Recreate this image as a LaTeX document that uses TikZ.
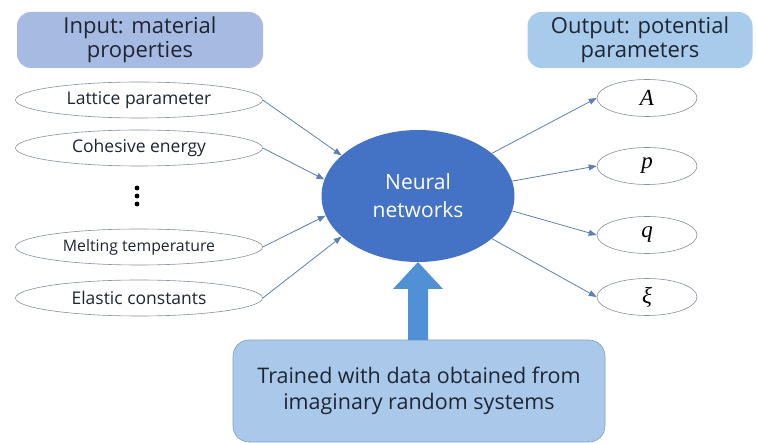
\documentclass[tikz,border=0pt]{standalone}
\usepackage{fontspec}
\setmainfont{Open Sans}
\newfontfamily\symfont{Liberation Serif}
\usetikzlibrary{shapes.geometric,arrows.meta}
\definecolor{inbox}{RGB}{166,186,226}
\definecolor{outbox}{RGB}{168,203,235}
\definecolor{nncol}{RGB}{68,114,196}
\definecolor{arrcol}{RGB}{94,128,180}
\definecolor{ellline}{RGB}{135,145,160}
\definecolor{blockcol}{RGB}{80,144,212}
\definecolor{trainfill}{RGB}{170,201,234}
\definecolor{trainline}{RGB}{130,160,200}
\definecolor{txt}{RGB}{30,38,52}
\tikzset{
  titlebox/.style={rounded corners=14pt, minimum width=#1, minimum height=56pt,
    align=center, text=txt, font=\fontsize{22}{24}\selectfont, inner sep=0pt},
  propnode/.style={ellipse, draw=ellline, line width=0.6pt, fill=white,
    minimum width=247pt, minimum height=36pt, inner sep=0pt, text=txt,
    font=\fontsize{17.5}{19}\selectfont},
  parnode/.style={ellipse, draw=ellline, line width=0.6pt, fill=white,
    minimum width=100pt, minimum height=37pt, inner sep=0pt, text=black,
    font=\symfont\itshape\fontsize{23}{24}\selectfont},
  link/.style={draw=arrcol, line width=0.8pt, -{Triangle[length=8pt,width=6pt]}},
}
\begin{document}
\begin{tikzpicture}[x=1pt,y=-1pt]
\useasboundingbox (0,0) rectangle (757,443);
\fill[white] (0,0) rectangle (757,443);

% headers
\node[titlebox=246pt, fill=inbox] (inhead) at (140,40) {Input: material\\properties};
\node[titlebox=225pt, fill=outbox] (outhead) at (640,40) {Output: potential\\parameters};

% material properties
\node[propnode] (lat) at (139,100) {Lattice parameter};
\node[propnode] (coh) at (139,148) {Cohesive energy};
\node[propnode, font=\fontsize{15.8}{17}\selectfont] (melt) at (139,247) {Melting temperature};
\node[propnode] (ela) at (139,298) {Elastic constants};
% vertical ellipsis between the two groups
\foreach \yy in {188,196,204} \fill[black] (137,\yy) circle (2.4pt);

% network
\node[ellipse, fill=nncol, minimum width=193pt, minimum height=132pt, inner sep=0pt,
  align=center, text=white, font=\fontsize{21}{28}\selectfont] (nn) at (418,196)
  {Neural\\networks};

% potential parameters
\node[parnode] (pA) at (647,98) {A};
\node[parnode] (pp) at (647,166) {p};
\node[parnode] (pq) at (647,235) {q};
\node[parnode] (px) at (647,297) {ξ};

% training box
\node[rounded corners=16pt, draw=trainline, line width=0.6pt, fill=trainfill,
  minimum width=372pt, minimum height=102pt, align=center, text=txt,
  font=\fontsize{21.5}{26}\selectfont] (train) at (419,391)
  {Trained with data obtained from\\imaginary random systems};

% block arrow from training box into the network
\fill[blockcol] (408,340) -- (408,289) -- (393,289) -- (418,262) -- (443,289)
  -- (428,289) -- (428,340) -- cycle;

% inputs
\draw[link] (lat.east) -- (nn.152);
\draw[link] (coh.east) -- (nn.170);
\draw[link] (melt.east) -- (nn.192);
\draw[link] (ela.east) -- (nn.208);

% outputs
\draw[link] (nn.30) -- (pA.west);
\draw[link] (nn.9) -- (pp.west);
\draw[link] (nn.-9) -- (pq.west);
\draw[link] (nn.-30) -- (px.west);
\end{tikzpicture}
\end{document}
